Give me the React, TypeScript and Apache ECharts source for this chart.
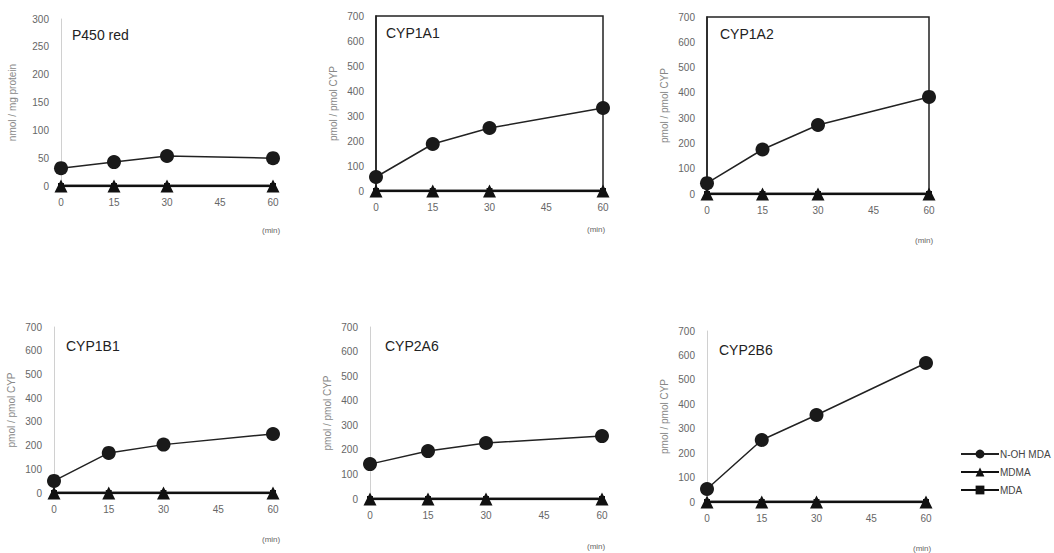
import React, { useEffect, useRef } from "react";
import * as echarts from "echarts";

const minutes = [0, 15, 30, 60];
const xTicks = [0, 15, 30, 45, 60];
const panelTitles = ["P450 red", "CYP1A1", "CYP1A2", "CYP1B1", "CYP2A6", "CYP2B6"];
const yNames = ["nmol / mg protein", "pmol / pmol CYP", "pmol / pmol CYP", "pmol / pmol CYP", "pmol / pmol CYP", "pmol / pmol CYP"];
const yMax = [300, 700, 700, 700, 700, 700];
const yStep = [50, 100, 100, 100, 100, 100];

const nOhMdaP450red = [32, 43, 54, 50];
const nOhMdaCYP1A1 = [56, 188, 252, 332];
const nOhMdaCYP1A2 = [43, 176, 273, 384];
const nOhMdaCYP1B1 = [51, 169, 204, 249];
const nOhMdaCYP2A6 = [142, 195, 228, 256];
const nOhMdaCYP2B6 = [53, 254, 356, 569];
const mdmaAll = [0, 0, 0, 0];
const mdaAll = [0, 0, 0, 0];

const nOhSeries = [nOhMdaP450red, nOhMdaCYP1A1, nOhMdaCYP1A2, nOhMdaCYP1B1, nOhMdaCYP2A6, nOhMdaCYP2B6];

const grids = [
  { left: 61, top: 19, width: 212, height: 167, box: false },
  { left: 376, top: 16, width: 227, height: 175, box: true },
  { left: 707, top: 17, width: 222, height: 177, box: true },
  { left: 54, top: 327, width: 219, height: 166, box: false },
  { left: 370, top: 327, width: 232, height: 172, box: false },
  { left: 707, top: 331, width: 219, height: 171, box: false },
];
const titlePos = [
  [72, 35], [386, 33], [720, 34], [66, 346], [385, 346], [719, 350],
];
const minPos = [
  [262, 230], [587, 229], [915, 240], [262, 539], [587, 546], [913, 548],
];

export default function App() {
  const ref = useRef<HTMLDivElement>(null);
  useEffect(() => {
    if (!ref.current) return;
    const chart = echarts.init(ref.current, null, { renderer: "svg" });
    const font = "Liberation Sans, Arial, sans-serif";
    const gridOpts = grids.map((g) => ({
      left: g.left,
      top: g.top,
      width: g.width,
      height: g.height,
      show: g.box,
      borderColor: "#222",
      borderWidth: 1.5,
      backgroundColor: "transparent",
      containLabel: false,
    }));
    const xAxes = grids.map((g, i) => ({
      type: "value",
      gridIndex: i,
      min: 0,
      max: 60,
      interval: 15,
      axisLine: { show: true, lineStyle: { color: "#222", width: 1.5 } },
      axisTick: { show: false },
      splitLine: { show: false },
      axisLabel: {
        color: "#666",
        fontSize: 10,
        fontFamily: font,
        margin: 11,
        customValues: xTicks,
      },
    }));
    const yAxes = grids.map((g, i) => ({
      type: "value",
      gridIndex: i,
      min: 0,
      max: yMax[i],
      interval: yStep[i],
      name: yNames[i],
      nameLocation: "middle",
      nameGap: i === 0 ? 44 : 38,
      nameTextStyle: { color: "#888", fontSize: 10, fontFamily: font },
      axisLine: { show: true, lineStyle: { color: g.box ? "#222" : "#d0d0d0", width: g.box ? 1.5 : 1 } },
      axisTick: { show: false },
      splitLine: { show: false },
      axisLabel: { color: "#666", fontSize: 10, fontFamily: font, margin: 12 },
    }));
    const series: any[] = [];
    grids.forEach((g, i) => {
      series.push({
        name: "N-OH MDA",
        type: "line",
        xAxisIndex: i,
        yAxisIndex: i,
        data: minutes.map((m, k) => [m, nOhSeries[i][k]]),
        symbol: "circle",
        symbolSize: 14,
        itemStyle: { color: "#1a1a1a" },
        lineStyle: { color: "#222", width: 1.5 },
        z: 5,
      });
      series.push({
        name: "MDMA",
        type: "line",
        xAxisIndex: i,
        yAxisIndex: i,
        data: minutes.map((m, k) => [m, mdmaAll[k]]),
        symbol: "triangle",
        symbolSize: 13,
        itemStyle: { color: "#111" },
        lineStyle: { color: "#111", width: 2.5 },
        z: 4,
      });
      series.push({
        name: "MDA",
        type: "line",
        xAxisIndex: i,
        yAxisIndex: i,
        data: minutes.map((m, k) => [m, mdaAll[k]]),
        symbol: "rect",
        symbolSize: 6,
        itemStyle: { color: "#111" },
        lineStyle: { color: "#111", width: 2.5 },
        z: 2,
      });
    });
    const graphics: any[] = [];
    panelTitles.forEach((t, i) => {
      graphics.push({
        type: "text",
        x: titlePos[i][0],
        y: titlePos[i][1],
        style: { text: t, fill: "#222", font: `14px ${font}`, textVerticalAlign: "middle" },
      });
      graphics.push({
        type: "text",
        x: minPos[i][0],
        y: minPos[i][1],
        style: { text: "(min)", fill: "#666", font: `8px ${font}`, textVerticalAlign: "middle" },
      });
    });
    chart.setOption({
      animation: false,
      backgroundColor: "#fff",
      grid: gridOpts,
      xAxis: xAxes,
      yAxis: yAxes,
      series,
      graphic: graphics,
      legend: {
        left: 955,
        top: 444,
        orient: "vertical",
        itemWidth: 38,
        itemHeight: 11,
        itemGap: 8,
        data: ["N-OH MDA", "MDMA", "MDA"],
        textStyle: { color: "#444", fontSize: 10, fontFamily: font, padding: [0, 0, 0, -4] },
        selectedMode: false,
      },
    });
    return () => chart.dispose();
  }, []);
  return (
    <div
      ref={ref}
      style={{ position: "absolute", left: 0, top: 0, width: 1054, height: 553 }}
    />
  );
}
